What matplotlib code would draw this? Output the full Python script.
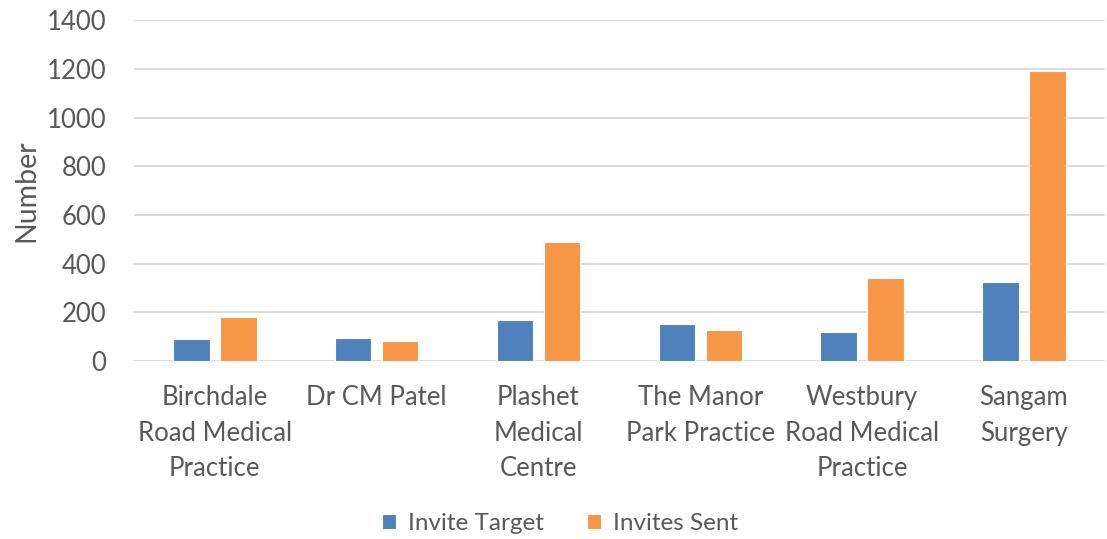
import matplotlib
matplotlib.use("Agg")
import matplotlib.pyplot as plt
import numpy as np

categories = ["Birchdale\nRoad Medical\nPractice", "Dr CM Patel", "Plashet\nMedical\nCentre",
              "The Manor\nPark Practice", "Westbury\nRoad Medical\nPractice", "Sangam\nSurgery"]
invite_target = [90, 95, 167, 151, 120, 326]
invites_sent = [180, 83, 490, 126, 340, 1193]
yticks = [0, 200, 400, 600, 800, 1000, 1200, 1400]

plt.rcParams['font.family'] = ['Lato', 'DejaVu Sans']
txt = '#595959'

fig = plt.figure(figsize=(11.07, 5.39), dpi=100)
ax = fig.add_axes([0.121, 0.330, 0.877, 0.632])

x = np.arange(len(categories))
w = 0.225
gap = 0.065
ax.bar(x - (w + gap) / 2, invite_target, w, color='#4F81BD', edgecolor='white', linewidth=0.8,
       label='Invite Target', zorder=3)
ax.bar(x + (w + gap) / 2, invites_sent, w, color='#F79646', edgecolor='white', linewidth=0.8,
       label='Invites Sent', zorder=3)

ax.set_xlim(-0.5, len(categories) - 0.5)
ax.set_ylim(0, 1400)
ax.set_yticks(yticks)
ax.yaxis.grid(True, color='#d9d9d9', linewidth=1.3, zorder=0)
ax.set_axisbelow(True)
for s in ax.spines.values():
    s.set_visible(False)
ax.tick_params(axis='both', length=0, colors=txt)
ax.tick_params(axis='y', pad=20, labelsize=18.5)
ax.tick_params(axis='x', pad=17, labelsize=18.5)
ax.set_xticks(x)
ax.set_xticklabels(categories, linespacing=1.54)
ax.set_ylabel('Number', fontsize=20.5, color=txt, labelpad=5.5)

leg = fig.legend(loc='center', bbox_to_anchor=(0.506, 0.028), ncol=2, frameon=False,
                 fontsize=17.5, handlelength=0.55, handleheight=0.55, columnspacing=1.8,
                 handletextpad=0.5)
for t in leg.get_texts():
    t.set_color(txt)

fig.savefig('out.png', dpi=100)
